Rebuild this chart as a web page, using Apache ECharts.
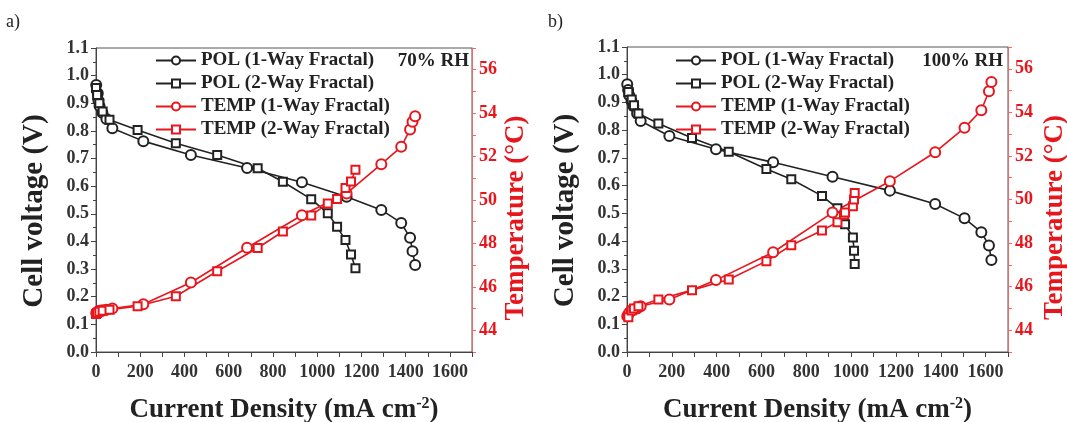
<!DOCTYPE html>
<html>
<head>
<meta charset="utf-8">
<script src="https://cdn.jsdelivr.net/npm/echarts@6/dist/echarts.min.js"></script>
<style>html,body{margin:0;padding:0;background:#fff;}#c{width:1067px;height:422px;}</style>
</head>
<body>
<div id="c"></div>
<script>
// ---- data: panel a) 70% RH ----
const a_pol1_I = [1, 8, 11, 16, 29, 47, 74, 214, 429, 683, 931, 1133, 1290, 1380, 1420, 1431, 1443];
const a_pol1_V = [0.966, 0.936, 0.91, 0.89, 0.866, 0.843, 0.81, 0.763, 0.713, 0.666, 0.614, 0.562, 0.514, 0.467, 0.413, 0.365, 0.315];
const a_temp1_T = [44.8, 44.85, 44.87, 44.9, 44.92, 44.95, 45.0, 45.2, 46.2, 47.8, 49.3, 50.3, 51.65, 52.45, 53.25, 53.6, 53.86];
const a_pol2_I = [0, 5, 15, 30, 61, 188, 361, 548, 731, 845, 973, 1048, 1090, 1128, 1153, 1173];
const a_pol2_V = [0.955, 0.93, 0.90, 0.87, 0.84, 0.803, 0.755, 0.713, 0.665, 0.616, 0.553, 0.502, 0.453, 0.405, 0.353, 0.303];
const a_temp2_T = [44.75, 44.8, 44.85, 44.9, 44.95, 45.11, 45.57, 46.72, 47.79, 48.55, 49.29, 49.84, 50.05, 50.55, 50.85, 51.39];
// ---- data: panel b) 100% RH ----
const b_pol1_I = [1, 5, 10, 20, 28, 45, 61, 189, 397, 652, 917, 1173, 1375, 1506, 1581, 1615, 1626];
const b_pol1_V = [0.966, 0.945, 0.926, 0.905, 0.887, 0.86, 0.833, 0.779, 0.731, 0.684, 0.632, 0.582, 0.534, 0.482, 0.432, 0.384, 0.332];
const b_temp1_T = [44.64, 44.7, 44.8, 44.9, 44.95, 45.0, 45.1, 45.41, 46.3, 47.58, 49.4, 50.84, 52.17, 53.29, 54.1, 54.97, 55.39];
const b_pol2_I = [6, 21, 31, 51, 140, 290, 454, 622, 733, 870, 939, 969, 973, 1008, 1013, 1016];
const b_pol2_V = [0.938, 0.911, 0.89, 0.86, 0.824, 0.772, 0.722, 0.66, 0.623, 0.563, 0.518, 0.488, 0.461, 0.413, 0.365, 0.317];
const b_temp2_T = [44.6, 44.9, 45.0, 45.1, 45.41, 45.84, 46.33, 47.17, 47.9, 48.58, 48.96, 49.31, 49.4, 49.69, 50.0, 50.3];

const names = ['POL (1-Way Fractal)', 'POL (2-Way Fractal)', 'TEMP (1-Way Fractal)', 'TEMP (2-Way Fractal)'];
const panelLabels = ['a)', 'b)'];
const rhLabels = ['70% RH', '100% RH'];

const FONT = '"Liberation Serif", "Times New Roman", serif';
const BLACK = '#222222';
const RED = '#e8161c';
const zip = (xs, ys) => xs.map((x, i) => [x, ys[i]]);

const grids = [
  { left: 96, top: 48, width: 376, height: 304 },
  { left: 627, top: 47, width: 381, height: 305 }
];
const NAME_FS = 27;
const TICK_FS = 18;

function xAxis(g) {
  return {
    type: 'value', gridIndex: g, min: 0, max: 1700, interval: 100,
    name: 'Current Density (mA cm{sup|-2})', nameLocation: 'middle', nameGap: 44,
    nameTextStyle: { fontFamily: FONT, fontWeight: 'bold', fontSize: NAME_FS, color: BLACK,
      rich: { sup: { fontFamily: FONT, fontWeight: 'bold', fontSize: 16, color: BLACK, verticalAlign: 'top', padding: [0, 0, 12, 0] } } },
    axisLine: { lineStyle: { color: '#444', width: 1 } },
    axisTick: { inside: false, length: 5, lineStyle: { color: '#444' } },
    axisLabel: { fontFamily: FONT, fontWeight: 'bold', fontSize: TICK_FS, color: '#333', margin: 11,
      formatter: v => (v % 200 === 0 ? String(v) : '') },
    splitLine: { show: false }
  };
}
function vAxis(g) {
  return {
    type: 'value', gridIndex: g, position: 'left', min: 0, max: 1.1, interval: 0.1,
    name: 'Cell voltage (V)', nameLocation: 'middle', nameGap: 47, nameRotate: 90,
    nameTextStyle: { fontFamily: FONT, fontWeight: 'bold', fontSize: 29, color: BLACK, padding: [0, 22, 0, 0] },
    axisLine: { show: true, lineStyle: { color: '#444', width: 1 } },
    axisTick: { show: true, length: 5, lineStyle: { color: '#444' } },
    minorTick: { show: true, splitNumber: 2, length: 3, lineStyle: { color: '#444' } },
    axisLabel: { fontFamily: FONT, fontWeight: 'bold', fontSize: TICK_FS, color: '#333', margin: 7,
      formatter: v => v.toFixed(1) },
    splitLine: { show: false }
  };
}
function tAxis(g, gap) {
  return {
    type: 'value', gridIndex: g, position: 'right', min: 43, max: 57, interval: 1,
    name: 'Temperature (°C)', nameLocation: 'middle', nameGap: gap, nameRotate: 90,
    nameTextStyle: { fontFamily: FONT, fontWeight: 'bold', fontSize: NAME_FS, color: RED, padding: [0, 36, 0, 0] },
    axisLine: { show: true, lineStyle: { color: '#ec6b6b', width: 1 } },
    axisTick: { show: true, length: 4, lineStyle: { color: '#ec6b6b' } },
    axisLabel: { fontFamily: FONT, fontWeight: 'bold', fontSize: TICK_FS, color: RED, margin: 7,
      formatter: v => (v % 2 === 0 ? String(v) : '') },
    splitLine: { show: false }
  };
}
function ser(name, data, g, yi, color, sym) {
  return {
    name, type: 'line', xAxisIndex: g, yAxisIndex: yi, data,
    symbol: sym, symbolSize: sym === 'emptyCircle' ? 10 : 8, showSymbol: true,
    lineStyle: { color, width: 1.6 }, itemStyle: { color, borderColor: color, borderWidth: 1.6 },
    z: 3, animation: false
  };
}

const legendCommon = {
  orient: 'vertical', itemWidth: 40, itemHeight: 10, itemGap: 4, data: names,
  textStyle: { fontFamily: FONT, fontWeight: 'bold', fontSize: 19, color: BLACK }, padding: 0,
  selectedMode: false
};

const option = {
  animation: false,
  grid: grids.map(g => Object.assign({ show: true, borderColor: '#555', borderWidth: 1, backgroundColor: 'transparent',
    containLabel: false, outerBoundsMode: 'none' }, g)),
  xAxis: [xAxis(0), xAxis(1)],
  yAxis: [vAxis(0), tAxis(0, 31), vAxis(1), tAxis(1, 34)],
  legend: [
    Object.assign({ left: 155, top: 51 }, legendCommon),
    Object.assign({ left: 675, top: 51 }, legendCommon)
  ],
  graphic: [
    { type: 'text', left: 6, top: 13, style: { text: panelLabels[0], font: '18px ' + FONT, fill: BLACK } },
    { type: 'text', left: 548, top: 13, style: { text: panelLabels[1], font: '18px ' + FONT, fill: BLACK } },
    { type: 'text', right: 1067 - 469, top: 52, style: { text: rhLabels[0], font: 'bold 19px ' + FONT, fill: BLACK } },
    { type: 'text', right: 1067 - 1003, top: 52, style: { text: rhLabels[1], font: 'bold 19px ' + FONT, fill: BLACK } }
  ],
  series: [
    ser(names[0], zip(a_pol1_I, a_pol1_V), 0, 0, BLACK, 'emptyCircle'),
    ser(names[1], zip(a_pol2_I, a_pol2_V), 0, 0, BLACK, 'emptyRect'),
    ser(names[2], zip(a_pol1_I, a_temp1_T), 0, 1, RED, 'emptyCircle'),
    ser(names[3], zip(a_pol2_I, a_temp2_T), 0, 1, RED, 'emptyRect'),
    ser(names[0], zip(b_pol1_I, b_pol1_V), 1, 2, BLACK, 'emptyCircle'),
    ser(names[1], zip(b_pol2_I, b_pol2_V), 1, 2, BLACK, 'emptyRect'),
    ser(names[2], zip(b_pol1_I, b_temp1_T), 1, 3, RED, 'emptyCircle'),
    ser(names[3], zip(b_pol2_I, b_temp2_T), 1, 3, RED, 'emptyRect')
  ]
};
const chart = echarts.init(document.getElementById('c'), null, { renderer: 'canvas' });
chart.setOption(option);
</script>
</body>
</html>
